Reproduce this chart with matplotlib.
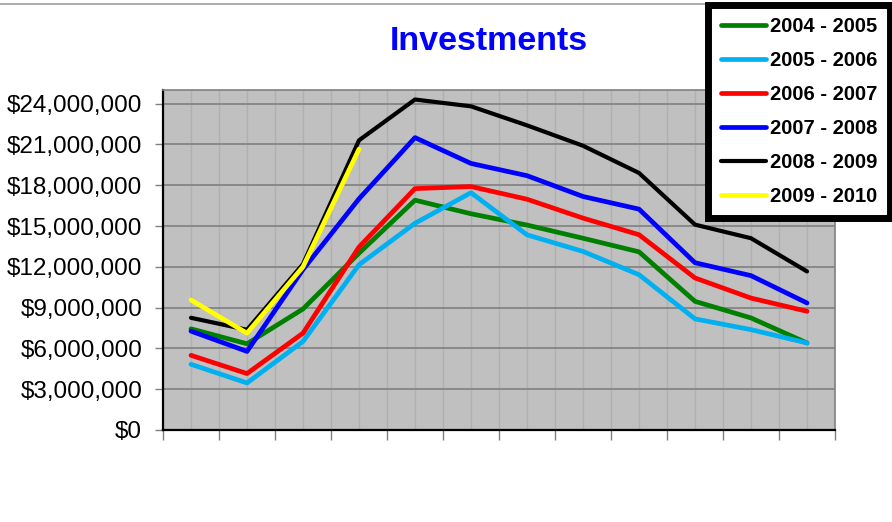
import matplotlib
matplotlib.use("Agg")
import matplotlib.pyplot as plt
from matplotlib.ticker import FuncFormatter, MultipleLocator
from matplotlib.lines import Line2D
import numpy as np

plt.rcParams['font.family'] = ['Liberation Sans', 'DejaVu Sans']

# 12 periods per year, no labels shown on the x axis
periods = np.arange(12)

fy_2004 = [7.44e6, 6.34e6, 8.9e6, 13.0e6, 16.9e6, 15.9e6, 15.07e6, 14.1e6, 13.1e6, 9.46e6, 8.24e6, 6.4e6]
fy_2005 = [4.83e6, 3.46e6, 6.51e6, 12.15e6, 15.2e6, 17.45e6, 14.35e6, 13.13e6, 11.42e6, 8.17e6, 7.38e6, 6.4e6]
fy_2006 = [5.49e6, 4.15e6, 7.12e6, 13.45e6, 17.75e6, 17.9e6, 16.97e6, 15.58e6, 14.36e6, 11.18e6, 9.7e6, 8.73e6]
fy_2007 = [7.27e6, 5.78e6, 11.8e6, 17.0e6, 21.5e6, 19.6e6, 18.7e6, 17.17e6, 16.24e6, 12.3e6, 11.35e6, 9.34e6]
fy_2008 = [8.25e6, 7.37e6, 12.2e6, 21.3e6, 24.3e6, 23.8e6, 22.4e6, 20.9e6, 18.9e6, 15.1e6, 14.1e6, 11.66e6]
fy_2009 = [9.56e6, 7.12e6, 12.0e6, 20.65e6]

series = [
    ('2004 - 2005', fy_2004, '#008000'),
    ('2005 - 2006', fy_2005, '#00B0F0'),
    ('2006 - 2007', fy_2006, '#FF0000'),
    ('2007 - 2008', fy_2007, '#0000FF'),
    ('2008 - 2009', fy_2008, '#000000'),
    ('2009 - 2010', fy_2009, '#FFFF00'),
]

fig = plt.figure(figsize=(8.92, 5.22), dpi=100)
ax = fig.add_axes([163/892, 1-430/522, (835-163)/892, (430-90)/522])
ax.set_facecolor('#C0C0C0')

handles = []
for label, vals, col in series:
    lw = 3.4 if col != '#000000' else 3.0
    ax.plot(periods[:len(vals)], vals, color=col, lw=lw,
            solid_capstyle='round', solid_joinstyle='round', zorder=3)
    handles.append(Line2D([], [], color=col, lw=lw, solid_capstyle='round', label=label))

ax.set_xlim(-0.5, 11.5)
ax.set_ylim(0, 25e6)
ax.yaxis.set_major_locator(MultipleLocator(3e6))
ax.yaxis.set_major_formatter(FuncFormatter(lambda v, p: f"${v:,.0f}"))
ax.xaxis.set_major_locator(MultipleLocator(1, offset=0.5))
ax.xaxis.set_minor_locator(MultipleLocator(1))
ax.set_xticklabels([])
ax.tick_params(axis='x', which='major', length=7, width=1, color='#808080', direction='out')
ax.tick_params(axis='x', which='minor', length=0)
ax.tick_params(axis='y', length=6, width=1, color='#808080', labelsize=17.5, pad=9)

ax.grid(True, axis='y', color='#808080', lw=1.2, zorder=1)
ax.grid(True, axis='x', which='both', color='#B0B0B0', lw=1.0, zorder=1)
ax.set_axisbelow(True)

for side in ['left', 'bottom']:
    ax.spines[side].set_color('black')
    ax.spines[side].set_linewidth(1.6)
for side in ['top', 'right']:
    ax.spines[side].set_color('#808080')
    ax.spines[side].set_linewidth(1.2)

fig.text(489/892, 1-41/522, 'Investments', color='#0000FF', fontsize=24.5,
         fontweight='bold', ha='center', va='center')

# thin border line along the top of the chart area
fig.add_artist(Line2D([0, 1], [1-4/522, 1-4/522], color='#A0A0A0', lw=1.2))

leg = fig.legend(handles=handles, loc='upper right', bbox_to_anchor=(890/892, 1-5/522),
                 borderaxespad=0, prop={'weight': 'bold', 'size': 14.5},
                 handlelength=2.25, handletextpad=0.2, labelspacing=0.74,
                 borderpad=0.62, fancybox=False, framealpha=1)
leg.get_frame().set_edgecolor('black')
leg.get_frame().set_linewidth(5)
leg.set_zorder(10)

fig.savefig('out.png', dpi=100)
